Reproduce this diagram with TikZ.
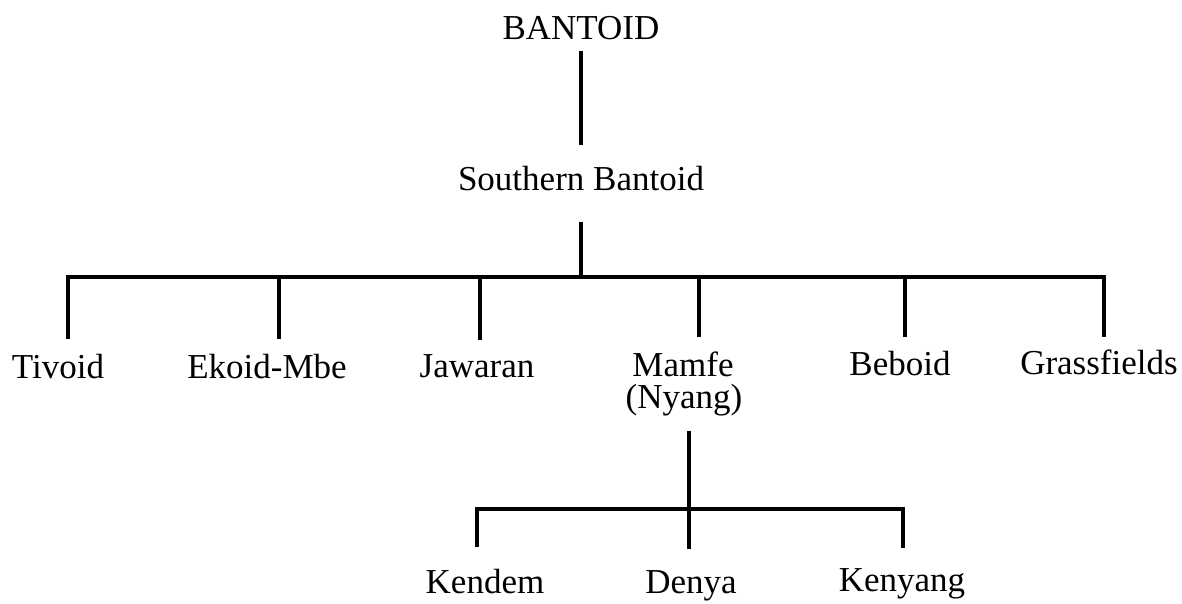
\documentclass[tikz,border=0pt]{standalone}
\usepackage{fontspec}
\setmainfont{Liberation Serif}

\begin{document}
\begin{tikzpicture}[x=1pt, y=-1pt, line width=4.5pt,
    lbl/.style={font=\fontsize{35}{42}\selectfont, inner sep=0pt, anchor=base}]
    \useasboundingbox (0,0) rectangle (1182,603);

    % Top levels
    \node[lbl] (ban) at (581,39) {BANTOID};
    \node[lbl] (sb) at (581,190) {Southern Bantoid};
    \draw[shorten <=9pt, shorten >=18pt] (ban.south) -- (sb.north);

    % Branches of Southern Bantoid
    \node[lbl] (tiv) at (58,378) {Tivoid};
    \node[lbl] (eko) at (267,378) {Ekoid-Mbe};
    \node[lbl] (jaw) at (477,377) {Jawaran};
    \node[lbl] (mam) at (683,376) {Mamfe};
    \node[lbl] (nya) at (684,408) {(Nyang)};
    \node[lbl] (beb) at (900,375) {Beboid};
    \node[lbl] (gra) at (1099,374) {Grassfields};

    \coordinate (sbj) at (581,277);
    \coordinate (b1) at (68,277);
    \coordinate (b2) at (279,277);
    \coordinate (b3) at (480,277);
    \coordinate (b4) at (699,277);
    \coordinate (b5) at (905,277);
    \coordinate (b6) at (1104,277);

    \draw[shorten <=29pt] (sb.south) -- (sbj);
    \draw[shorten <=12pt, shorten >=10pt] (b1 |- tiv.north) -- (b1) -- (b6) -- (b6 |- gra.north);
    \draw[shorten >=12pt] (b2) -- (b2 |- eko.north);
    \draw[shorten >=12pt] (b3) -- (b3 |- jaw.north);
    \draw[shorten >=12pt] (b4) -- (b4 |- mam.north);
    \draw[shorten >=11pt] (b5) -- (b5 |- beb.north);

    % Branches of Mamfe (Nyang)
    \node[lbl] (ken) at (485,593) {Kendem};
    \node[lbl] (den) at (691,593) {Denya};
    \node[lbl] (kny) at (902,591) {Kenyang};

    \coordinate (k1) at (477,509);
    \coordinate (k2) at (689,509);
    \coordinate (k3) at (903,509);

    \draw[shorten <=13pt, shorten >=19pt] (k2 |- nya.south) -- (k2 |- den.north);
    \draw[shorten <=19pt, shorten >=18pt] (k1 |- ken.north) -- (k1) -- (k3) -- (k3 |- kny.north);
\end{tikzpicture}
\end{document}
